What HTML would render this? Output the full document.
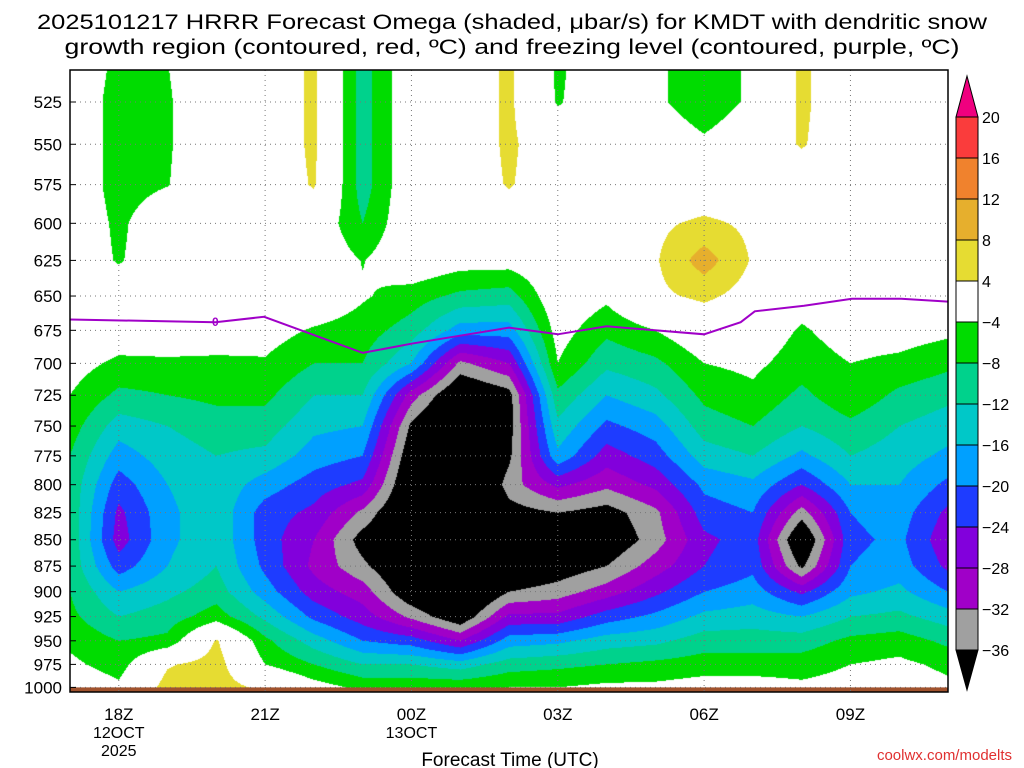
<!DOCTYPE html>
<html><head><meta charset="utf-8"><style>
html,body{margin:0;padding:0;background:#fff;}
#wrap{position:relative;width:1024px;height:768px;overflow:hidden;font-family:"Liberation Sans",sans-serif;}
canvas{position:absolute;left:70px;top:70px;}
svg{position:absolute;left:0;top:0;}
</style></head><body>
<div id="wrap">
<canvas id="field" width="878" height="622"></canvas>
<svg id="ov" width="1024" height="768"></svg>
</div>
<script>
// ---- data ----
const levels = [500,525,550,575,600,625,650,675,700,725,750,775,800,825,850,875,900,925,950,975,1000];
const hourLabels = ["18Z","21Z","00Z","03Z","06Z","09Z"];
const hourTicks = [1,4,7,10,13,16];
const dateLabels = ["12OCT","","13OCT","","",""];
const yTickLevels = [525,550,575,600,625,650,675,700,725,750,775,800,825,850,875,900,925,950,975,1000];
const omega = [
[0,0,0,0,0,0,0,0,-2,-4,-6,-8,-9,-9,-9,-9,-8,-7,-5,-3,0],
[-5,-6,-6,-6,-5,-4.5,0,-1,-5,-9,-14,-18,-22,-25,-26,-22,-16,-12,-8,-6,-3],
[-4,-4.5,-4.5,-4.2,0,0,0,0,-5,-8,-12,-14,-16,-17,-17,-16,-13,-10,-7,3.5,6],
[0,0,0,0,0,0,0,-1,-5,-7,-10,-12,-13,-13,-13,-12,-10,-6,4.5,6,6],
[0,0,0,0,0,0,0,-2,-4.5,-7,-10,-13,-18,-22,-22,-21,-18,-13,-7,-4,3],
[5,5,5,4.5,0,0,0,-4.5,-8,-12,-15,-18,-22,-25,-28,-29,-26,-21,-14,-8,-2],
[-10,-10,-10,-10,-8,-4.2,-3.5,-6,-8,-12,-16,-20,-25,-33,-38,-35,-30,-26,-20,-12,-5],
[0,0,0,0,0,0,-6,-10,-16,-30,-37,-40,-42,-43,-43,-42,-40,-33,-22,-12,-5],
[0,0,0,0,0,-2,-9,-18,-33,-42,-46,-48,-48,-48,-48,-48,-45,-40,-28,-14,-5],
[5,5,5,4.5,0,-2,-10,-18,-28,-38,-38,-37,-34,-38,-45,-42,-36,-27,-18,-10,-4],
[-5,-4.5,0,0,0,0,0,-2,-4,-9,-13,-17,-27,-36,-40,-39,-34,-27,-17,-9,-4],
[0,0,0,0,0,0,-3,-7,-11,-16,-21,-26,-31,-38,-40,-36,-30,-22,-14,-8,-3],
[-3,-3,0,0,3,3.5,3,-4,-9,-13,-18,-22,-27,-33,-34,-30,-25,-19,-13,-7,-3],
[-7,-7,-3,0,5,10,5,0,-4,-7,-10,-14,-19,-22,-25,-24,-20,-15,-10,-6,-2],
[-3,-3,0,0,3,3.5,2,-1,-3,-5,-8,-12,-17,-20,-22,-21,-18,-14,-10,-6,-2],
[5,5,4.5,0,0,0,-2,-4.5,-6,-9,-12,-17,-24,-34,-42,-37,-25,-16,-10,-6,-3],
[0,0,0,0,0,0,0,-2,-4,-5,-9,-12,-16,-20,-21,-20,-17,-12,-7,-4,-2],
[0,0,0,0,0,0,0,-2,-5,-9,-12,-14,-16,-18,-19,-18,-15,-11,-6,-3,-1],
[0,0,0,0,0,0,0,-3,-7,-11,-14,-17,-21,-25,-27,-25,-20,-14,-9,-5,-3]
];
const frzHours = [0,2.98,3.98,6,7,9,10,11,13,13.75,14.04,15.05,16.03,17.04,18];
const frzP = [667,669,665,692,685,673,678,672,678,669,661,657,652,652,654];
const cbLabels = ["20","16","12","8","4","-4","-8","-12","-16","-20","-24","-28","-32","-36"];
const bounds = [-36,-32,-28,-24,-20,-16,-12,-8,-4,4,8,12,16,20];
const colors = ["#000000","#a0a0a0","#a000c8","#8200dc","#1e3cff","#00a0ff","#00c8c8","#00d28c","#00dc00","#ffffff","#e6dc32","#e6af2d","#f0822d","#fa3c3c","#f0007f"];

// ---- axes ----
const L=70,R=948,T=70,B=692,H0=0,H1=18;
function xOf(h){return L+(h-H0)/(H1-H0)*(R-L);}
function hOf(x){return H0+(x-L)/(R-L)*(H1-H0);}
function yOf(p){return 102+908.5*Math.log(p/525);}
function pOf(y){return 525*Math.exp((y-102)/908.5);}
function hex(c){return [parseInt(c.substr(1,2),16),parseInt(c.substr(3,2),16),parseInt(c.substr(5,2),16)];}

// ---- field ----
const cv=document.getElementById('field');const ctx=cv.getContext('2d');
const img=ctx.createImageData(878,622);const rgb=colors.map(hex);
for(let py=0;py<622;py++){
  const p=Math.min(1000,Math.max(500,pOf(T+py+0.5)));
  const fp=(p-500)/25;const j=Math.min(19,Math.floor(fp));const tj=fp-j;
  for(let px=0;px<878;px++){
    const h=Math.min(18,Math.max(0,hOf(L+px+0.5)));
    const i=Math.min(17,Math.floor(h));const ti=h-i;
    const v=(omega[i][j]*(1-ti)+omega[i+1][j]*ti)*(1-tj)+(omega[i][j+1]*(1-ti)+omega[i+1][j+1]*ti)*tj;
    let k=0;while(k<bounds.length&&v>=bounds[k])k++;
    const c=rgb[k];const o=(py*878+px)*4;
    img.data[o]=c[0];img.data[o+1]=c[1];img.data[o+2]=c[2];img.data[o+3]=255;
  }
}
ctx.putImageData(img,0,0);

// ---- overlay ----
const NS="http://www.w3.org/2000/svg";const sv=document.getElementById('ov');
function mk(tag,attrs,txt){const e=document.createElementNS(NS,tag);for(const k in attrs)e.setAttribute(k,attrs[k]);if(txt!==undefined)e.textContent=txt;sv.appendChild(e);return e;}

let g=mk('rect',{x:L,y:yOf(1000),width:R-L,height:B-yOf(1000),fill:'#a0522d'});



yTickLevels.forEach(p=>{
  const y=yOf(p);
  const ln=mk('line',{x1:L,x2:R,y1:y,y2:y,stroke:'#777','stroke-width':1,'stroke-dasharray':'1,4'});
  
  
  const tk=mk('line',{x1:L,x2:L+6,y1:y,y2:y,stroke:'#000','stroke-width':1});
  
  
  const t=mk('text',{x:62,y:y+6,'text-anchor':'end','font-size':17,fill:'#000'},String(p));
  
  
});
hourTicks.forEach((h,i)=>{
  const x=xOf(h);
  const ln=mk('line',{x1:x,x2:x,y1:T,y2:B,stroke:'#777','stroke-width':1,'stroke-dasharray':'1,4'});
  
  
  const t=mk('text',{x:x,y:720,'text-anchor':'middle','font-size':17,fill:'#000'},hourLabels[i]);
  
  
  if(dateLabels[i]){
    const d=mk('text',{x:x,y:738,'text-anchor':'middle','font-size':16,fill:'#000'},dateLabels[i]);
    
    
  }
});
let yr=mk('text',{x:xOf(1),y:756,'text-anchor':'middle','font-size':16,fill:'#000'},'2025');



let d='';frzHours.forEach((h,i)=>{d+=(i?'L':'M')+xOf(h).toFixed(1)+','+yOf(frzP[i]).toFixed(1);});
let fl=mk('path',{d:d,fill:'none',stroke:'#a000c8','stroke-width':2});


let fll=mk('text',{x:xOf(2.98),y:yOf(669)+4,'text-anchor':'middle','font-size':12,fill:'#a000c8','font-weight':'bold'},'0');



let fr=mk('rect',{x:L,y:T,width:R-L,height:B-T,fill:'none',stroke:'#000','stroke-width':1.5});



const cx0=956,cx1=978,step=(650-117)/13;
for(let k=1;k<14;k++){
  const yb=650-(k-1)*step;
  const r=mk('rect',{x:cx0,y:yb-step,width:cx1-cx0,height:step,fill:colors[k],stroke:'#000','stroke-width':1});
  
  
}
let tb=mk('polygon',{points:`${cx0},650 ${cx1},650 ${(cx0+cx1)/2},690`,fill:colors[0],stroke:'#000'});


let tt=mk('polygon',{points:`${cx0},117 ${cx1},117 ${(cx0+cx1)/2},76`,fill:colors[14],stroke:'#000'});


cbLabels.forEach((s,i)=>{
  const t=mk('text',{x:982,y:117+i*step+6,'font-size':16,fill:'#000'},s.replace('-','\u2212'));
  
  
});

let t1=mk('text',{x:512,y:29,'text-anchor':'middle','font-size':21,fill:'#000',textLength:950,lengthAdjust:'spacingAndGlyphs'},'2025101217 HRRR Forecast Omega (shaded, \u03bcbar/s) for KMDT with dendritic snow');


let t2=mk('text',{x:512,y:54,'text-anchor':'middle','font-size':21,fill:'#000',textLength:895,lengthAdjust:'spacingAndGlyphs'},'growth region (contoured, red, \u00baC) and freezing level (contoured, purple, \u00baC)');


let xt=mk('text',{x:510,y:766,'text-anchor':'middle','font-size':19,fill:'#000'},'Forecast Time (UTC)');


let cr=mk('text',{x:1012,y:760,'text-anchor':'end','font-size':15,fill:'#e03030'},'coolwx.com/modelts');


</script>
</body></html>
